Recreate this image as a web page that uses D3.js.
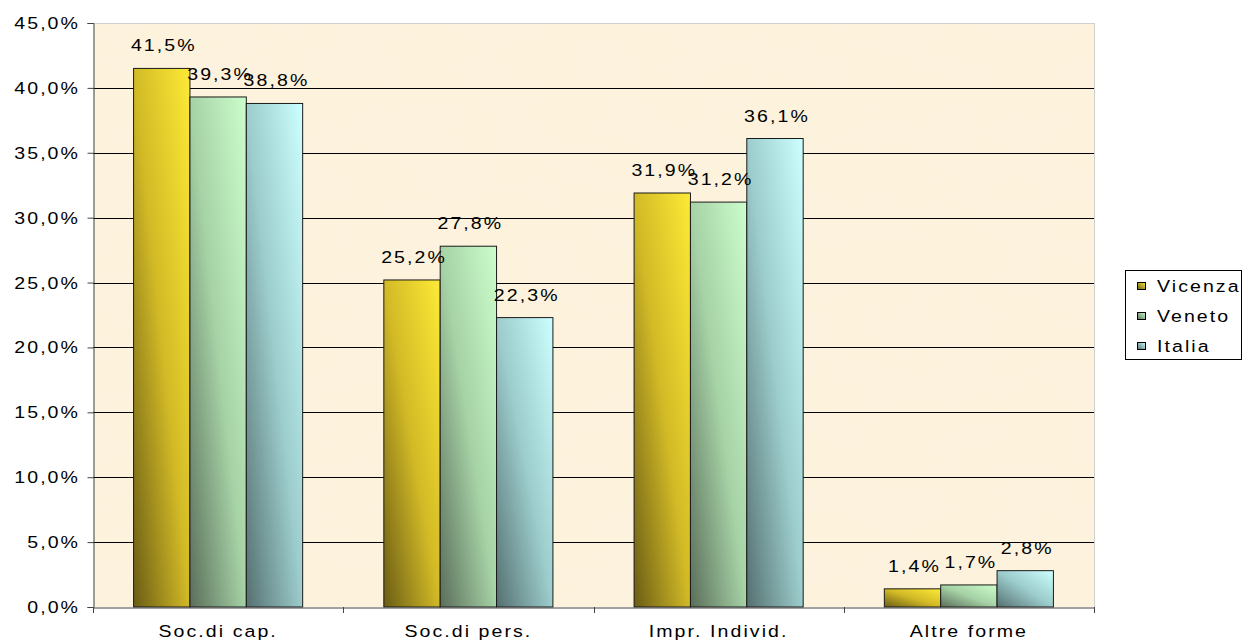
<!DOCTYPE html>
<html>
<head>
<meta charset="utf-8">
<script src="https://cdn.jsdelivr.net/npm/d3@7"></script>
<style>
  html, body { margin: 0; padding: 0; background: #fff; }
  svg { display: block; }
  text { font-family: "Liberation Sans", Arial, sans-serif; fill: #000; }
</style>
</head>
<body>
<svg id="chart" width="1242" height="642"></svg>
<script>
// ---- data ----
const categories = ["Soc.di cap.", "Soc.di pers.", "Impr. Individ.", "Altre forme"];
const seriesNames = ["Vicenza", "Veneto", "Italia"];
const vicenza = [41.5, 25.2, 31.9, 1.4];
const veneto  = [39.3, 27.8, 31.2, 1.7];
const italia  = [38.8, 22.3, 36.1, 2.8];
const yTickValues = [0, 5, 10, 15, 20, 25, 30, 35, 40, 45];

const seriesValues = [vicenza, veneto, italia];
const seriesColors = [
  ["#6a5c14", "#d2ba26", "#fdea36"],
  ["#5a6e5a", "#a6d2a6", "#ccfdcc"],
  ["#557070", "#9ccccc", "#ccffff"]
];

const fmt = v => d3.format(".1f")(v).replace(".", ",") + "%";

const svg = d3.select("#chart");
const defs = svg.append("defs");

// parchment texture
const filt = defs.append("filter").attr("id", "paper").attr("x", 0).attr("y", 0).attr("width", 1).attr("height", 1);
filt.append("feTurbulence").attr("type", "fractalNoise").attr("baseFrequency", "0.015 0.025").attr("numOctaves", 3).attr("seed", 11).attr("result", "n");
filt.append("feColorMatrix").attr("in", "n").attr("type", "matrix")
  .attr("values", "0 0 0 0 0.97  0 0 0 0 0.89  0 0 0 0 0.74  0 0 0 -1.8 1.05").attr("result", "c");
filt.append("feComposite").attr("in", "c").attr("in2", "SourceGraphic").attr("operator", "over");

seriesNames.forEach((s, i) => {
  const g = defs.append("linearGradient").attr("id", "grad" + i)
    .attr("x1", 0).attr("y1", 1).attr("x2", 1).attr("y2", 0);
  g.append("stop").attr("offset", "0%").attr("stop-color", seriesColors[i][0]);
  g.append("stop").attr("offset", "50%").attr("stop-color", seriesColors[i][1]);
  g.append("stop").attr("offset", "100%").attr("stop-color", seriesColors[i][2]);
  const l = defs.append("linearGradient").attr("id", "lg" + i)
    .attr("x1", 0).attr("y1", 1).attr("x2", 1).attr("y2", 0);
  l.append("stop").attr("offset", "0%").attr("stop-color", seriesColors[i][0]);
  l.append("stop").attr("offset", "100%").attr("stop-color", seriesColors[i][2]);
});

const pLeft = 93, pRight = 1094, pTop = 23, pBottom = 607;
const x = d3.scaleBand().domain(categories).range([pLeft, pRight]).paddingInner(0).paddingOuter(0);
const xs = d3.scaleBand().domain(seriesNames).range([0, x.bandwidth()]).paddingInner(0).paddingOuter(0.72);
const y = d3.scaleLinear().domain([0, 45]).range([pBottom, pTop]);

const SX = 1.15;
function stretchedText(sel, tx, ty, str, anchor, size) {
  sel.append("g").attr("transform", `translate(${tx},${ty}) scale(${SX},1)`)
    .append("text").attr("text-anchor", anchor)
    .style("font-size", (size || 17) + "px").style("letter-spacing", "1.8px")
    .text(str);
}

// plot background
svg.append("rect").attr("x", pLeft).attr("y", pTop).attr("width", pRight - pLeft).attr("height", pBottom - pTop)
  .attr("fill", "#fdf2dc").attr("filter", "url(#paper)");
svg.append("path").attr("d", `M${pLeft},${pTop + 0.5}H${pRight + 0.5}V${pBottom}`)
  .attr("fill", "none").attr("stroke", "#cfcfcf").attr("stroke-width", 1);

// gridlines
svg.append("g").selectAll("line").data(yTickValues.filter(v => v > 0 && v < 45)).join("line")
  .attr("x1", pLeft).attr("x2", pRight)
  .attr("y1", d => Math.round(y(d)) + 0.5).attr("y2", d => Math.round(y(d)) + 0.5)
  .attr("stroke", "#000").attr("stroke-width", 1);

// bars
const groups = svg.append("g").selectAll("g").data(seriesNames).join("g");
groups.each(function (s, i) {
  d3.select(this).selectAll("rect").data(seriesValues[i]).join("rect")
    .attr("x", (d, j) => x(categories[j]) + xs(s))
    .attr("y", d => y(d))
    .attr("width", xs.bandwidth())
    .attr("height", d => pBottom - y(d))
    .attr("fill", `url(#grad${i})`)
    .attr("stroke", "#1a1a1a").attr("stroke-width", 1);
});

// axes
const yAxis = svg.append("g").attr("transform", `translate(${pLeft + 0.5},0)`)
  .call(d3.axisLeft(y).tickValues(yTickValues).tickSize(6).tickFormat(""));
yAxis.select(".domain").attr("stroke", "#444");
yAxis.selectAll(".tick line").attr("stroke", "#444");
yTickValues.forEach(v => stretchedText(svg, 80, y(v) + 6, fmt(v), "end", 17));

const xAxis = svg.append("g").attr("transform", `translate(0,${pBottom + 0.5})`)
  .call(d3.axisBottom(x).tickSize(0).tickFormat(""));
xAxis.select(".domain").attr("stroke", "#444");
const bounds = [pLeft].concat(categories.map(c => x(c) + x.bandwidth()));
svg.append("g").selectAll("line").data(bounds).join("line")
  .attr("x1", d => Math.round(d) + 0.5).attr("x2", d => Math.round(d) + 0.5)
  .attr("y1", pBottom).attr("y2", pBottom + 6).attr("stroke", "#444");
categories.forEach(c => stretchedText(svg, x(c) + x.bandwidth() / 2, 637, c, "middle", 17));

// data labels
seriesNames.forEach((s, i) => {
  seriesValues[i].forEach((v, j) => {
    stretchedText(svg, x(categories[j]) + xs(s) + xs.bandwidth() / 2 + 2, y(v) - 17, fmt(v), "middle", 17);
  });
});

// legend
const lg = svg.append("g");
lg.append("rect").attr("x", 1125.5).attr("y", 270.5).attr("width", 116).attr("height", 89)
  .attr("fill", "#fff").attr("stroke", "#000").attr("stroke-width", 1);
seriesNames.forEach((s, i) => {
  const yy = 292 + i * 30;
  lg.append("rect").attr("x", 1137.5).attr("y", yy - 9.5).attr("width", 8).attr("height", 7)
    .attr("fill", `url(#lg${i})`).attr("stroke", "#000").attr("stroke-width", 1);
  stretchedText(lg, 1157, yy, s, "start", 17);
});
</script>
</body>
</html>
